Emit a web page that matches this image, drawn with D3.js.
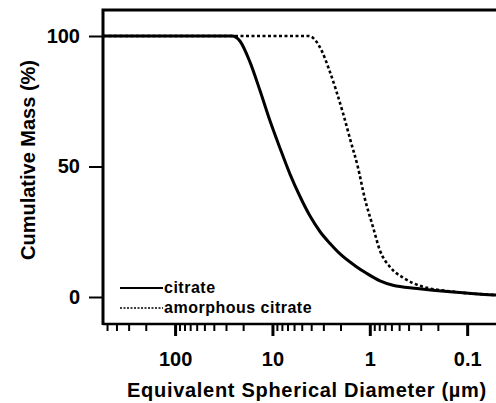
<!DOCTYPE html>
<html lang="en">
<head>
  <meta charset="UTF-8">
  <title>Cumulative Mass</title>
  <script src="https://d3js.org/d3.v7.min.js"></script>
  <style>
    body { margin: 0; background: #fff; }
    svg text { font-family: "Liberation Sans", Arial, sans-serif; font-weight: bold; fill: #000; }
  </style>
</head>
<body>
  <div id="chart"></div>
  <script>
    // diameters (um), largest first
    var citrateD = [550, 26, 21.5, 17.0, 13.4, 10.6, 8.36, 6.59, 5.21, 4.11, 3.24, 2.56, 2.02, 1.42, 1.07, 0.785, 0.578, 0.327, 0.150, 0.054, 0.046];
    var citrateM = [100, 100, 98, 90, 79, 67.5, 57, 47, 38.5, 31, 25, 20.5, 16.5, 12, 9, 6.2, 4.5, 3.3, 2, 0.8, 0.7];
    var amorphD = [550, 4.22, 3.56, 3.09, 2.61, 2.21, 1.87, 1.58, 1.33, 1.13, 0.93, 0.79, 0.62, 0.45, 0.30, 0.136, 0.046];
    var amorphM = [100, 100, 98, 94, 87, 79, 70, 60, 50, 38, 27, 18, 11.5, 7.3, 4.2, 2, 0.7];
    var xMajor = [100, 10, 1, 0.1];
    var xLabels = ["100", "10", "1", "0.1"];
    var yTicks = [0, 50, 100];

    var W = 496, H = 403;
    var mLeft = 103, mRight = 500, mTop = 10, mBottom = 324;

    var svg = d3.select("#chart").append("svg")
      .attr("width", W).attr("height", H);

    var x = d3.scaleLog().domain([550, 0.046]).range([mLeft, mRight]);
    var y = d3.scaleLinear().domain([0, 100]).range([297, 36]);

    // minor ticks 2..9 per decade
    var xMinor = [];
    [100, 10, 1, 0.1].forEach(function(dec) {
      for (var k = 2; k <= 9; k++) {
        var v = dec * k;
        if (v < 550 && v > 0.046) xMinor.push(v);
      }
    });

    // x axis minor
    var gm = svg.append("g")
      .attr("transform", "translate(0," + mBottom + ")")
      .call(d3.axisBottom(x).tickValues(xMinor).tickSize(7).tickFormat(""));
    gm.select(".domain").remove();
    gm.selectAll("line").attr("stroke", "#000").attr("stroke-width", 2);

    // x axis major
    var gx = svg.append("g")
      .attr("transform", "translate(0," + mBottom + ")")
      .call(d3.axisBottom(x).tickValues(xMajor).tickSize(12).tickPadding(16)
        .tickFormat(function(d, i) { return xLabels[i]; }));
    gx.select(".domain").remove();
    gx.selectAll("line").attr("stroke", "#000").attr("stroke-width", 3);
    gx.selectAll("text").style("font-size", "20px");

    svg.append("line")
      .attr("x1", mLeft).attr("x2", W).attr("y1", mBottom).attr("y2", mBottom)
      .attr("stroke", "#000").attr("stroke-width", 2.5);

    // y axis
    var gy = svg.append("g")
      .attr("transform", "translate(" + mLeft + ",0)")
      .call(d3.axisLeft(y).tickValues(yTicks).tickSize(14).tickPadding(9));
    gy.select(".domain").remove();
    gy.selectAll("line").attr("stroke", "#000").attr("stroke-width", 2);
    gy.selectAll("text").style("font-size", "20px");

    // frame: left and top
    svg.append("path")
      .attr("d", "M" + mLeft + "," + (mBottom + 1) + "V" + mTop + "H" + W)
      .attr("fill", "none").attr("stroke", "#000").attr("stroke-width", 3);

    var line = d3.line()
      .x(function(d) { return x(d[0]); })
      .y(function(d) { return y(d[1]); })
      .curve(d3.curveMonotoneX);

    svg.append("path")
      .datum(amorphD.map(function(d, i) { return [d, amorphM[i]]; }))
      .attr("d", line)
      .attr("fill", "none").attr("stroke", "#000")
      .attr("stroke-width", 2.6).attr("stroke-dasharray", "3,2.5");

    svg.append("path")
      .datum(citrateD.map(function(d, i) { return [d, citrateM[i]]; }))
      .attr("d", line)
      .attr("fill", "none").attr("stroke", "#000").attr("stroke-width", 3);

    // legend
    var leg = svg.append("g");
    leg.append("line").attr("x1", 120).attr("x2", 163).attr("y1", 288).attr("y2", 288)
      .attr("stroke", "#000").attr("stroke-width", 2);
    leg.append("text").attr("x", 164).attr("y", 293).style("font-size", "16px")
      .style("letter-spacing", "0.5px").text("citrate");
    leg.append("line").attr("x1", 120).attr("x2", 163).attr("y1", 308).attr("y2", 308)
      .attr("stroke", "#000").attr("stroke-width", 1.5).attr("stroke-dasharray", "2,1.5");
    leg.append("text").attr("x", 164).attr("y", 313).style("font-size", "16px")
      .style("letter-spacing", "0.5px").text("amorphous citrate");

    // axis titles
    svg.append("text")
      .attr("x", 307).attr("y", 397)
      .attr("text-anchor", "middle")
      .style("font-size", "20px").style("letter-spacing", "0.7px")
      .text("Equivalent Spherical Diameter  (\u00b5m)");

    svg.append("text")
      .attr("transform", "translate(35,160) rotate(-90)")
      .attr("text-anchor", "middle")
      .style("font-size", "20px")
      .text("Cumulative Mass  (%)");
  </script>
</body>
</html>
